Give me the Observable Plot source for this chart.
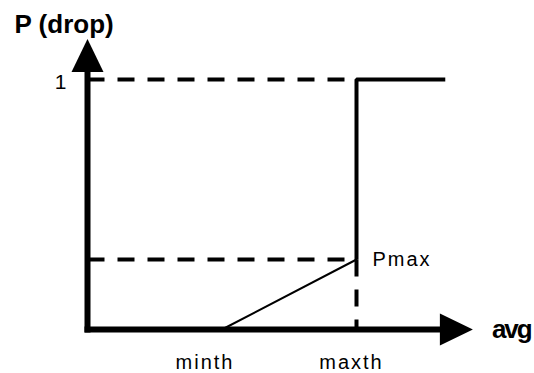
<!DOCTYPE html>
<html>
<head>
<meta charset="utf-8">
<script src="https://cdn.jsdelivr.net/npm/d3@7"></script>
<script src="https://cdn.jsdelivr.net/npm/@observablehq/plot@0.6"></script>
<style>
  html, body { margin: 0; padding: 0; background: #fff; }
</style>
</head>
<body>
<div id="chart"></div>
<script>
// ---- data (abstract units: avg on x, P(drop) on y) ----
const thresholdNames = ["minth", "maxth"];
const thresholdValues = [0.5, 1];
const pmaxValue = 0.28;
const pTopValue = 1;
const pTopLabel = "1";
const pmaxLabel = "Pmax";
const xAxisLabel = "avg";
const yAxisLabel = "P (drop)";
const xAxisEnd = 1.31;   // end of avg axis (arrow base)
const yAxisEnd = 1.03;   // end of P axis (arrow base)
const curveEnd = 1.33;   // where P = 1 segment stops

const minth = thresholdValues[0];
const maxth = thresholdValues[1];

// arrow head symbol (tip pointing "up" before rotation)
const arrowHead = {
  draw(ctx) {
    ctx.moveTo(0, -33);
    ctx.lineTo(16, 0);
    ctx.lineTo(-16, 0);
    ctx.closePath();
  }
};

const axes = [
  {x: 0, y: 0, k: "x"}, {x: xAxisEnd, y: 0, k: "x"},
  {x: 0, y: 0, k: "y"}, {x: 0, y: yAxisEnd, k: "y"}
];
const arrows = [
  {x: xAxisEnd, y: 0, rot: 90},
  {x: 0, y: yAxisEnd, rot: 0}
];
const dashedLines = [
  {x: 0, y: pTopValue, k: "top"}, {x: maxth, y: pTopValue, k: "top"},
  {x: 0, y: pmaxValue, k: "pmax"}, {x: maxth, y: pmaxValue, k: "pmax"},
  {x: maxth, y: pmaxValue, k: "vert"}, {x: maxth, y: 0, k: "vert"}
];
const rampLine = [{x: minth, y: 0}, {x: maxth, y: pmaxValue}];
const stepLine = [{x: maxth, y: pmaxValue}, {x: maxth, y: pTopValue}, {x: curveEnd, y: pTopValue}];

const font = "'Liberation Sans', Arial, sans-serif";

const chart = Plot.plot({
  width: 534,
  height: 373,
  margin: 0,
  x: {domain: [0, 1], range: [87, 356], axis: null},
  y: {domain: [0, 1], range: [329, 79], axis: null},
  style: {background: "#fff", fontFamily: font, color: "#000"},
  marks: [
    Plot.line(dashedLines, {x: "x", y: "y", z: "k", stroke: "#000", strokeWidth: 4, strokeDasharray: "17,13", strokeLinecap: "butt"}),
    Plot.line(rampLine, {x: "x", y: "y", stroke: "#000", strokeWidth: 2}),
    Plot.line(stepLine, {x: "x", y: "y", stroke: "#000", strokeWidth: 4, strokeLinejoin: "miter", strokeLinecap: "butt"}),
    Plot.line(axes, {x: "x", y: "y", z: "k", stroke: "#000", strokeWidth: 6, strokeLinecap: "square"}),
    Plot.dot(arrows, {x: "x", y: "y", symbol: arrowHead, rotate: "rot", fill: "#000", stroke: null, r: 10}),
    Plot.text([thresholdNames[0]], {x: minth, y: 0, text: d => d, dx: -17, dy: 39, lineAnchor: "bottom", fontSize: 20, fill: "#000"}),
    Plot.text([thresholdNames[1]], {x: maxth, y: 0, text: d => d, dx: -5, dy: 39, lineAnchor: "bottom", fontSize: 20, fill: "#000"}),
    Plot.text([pmaxLabel], {x: maxth, y: pmaxValue, text: d => d, textAnchor: "start", dx: 16, dy: 6, lineAnchor: "bottom", fontSize: 20, fill: "#000"}),
    Plot.text([pTopLabel], {x: 0, y: pTopValue, text: d => d, textAnchor: "end", dx: -21, dy: 9, lineAnchor: "bottom", fontSize: 21, fill: "#000"}),
    Plot.text([xAxisLabel], {x: xAxisEnd, y: 0, text: d => d, textAnchor: "start", dx: 52, dy: 8, lineAnchor: "bottom", fontSize: 26, fontWeight: "bold", fill: "#000"}),
    Plot.text([yAxisLabel], {frameAnchor: "top-left", text: d => d, textAnchor: "start", dx: 14, dy: 32, lineAnchor: "bottom", fontSize: 26, fontWeight: "bold", fill: "#000"})
  ]
});

// letter spacing tweaks for the labels
d3.select(chart).selectAll("text").each(function () {
  const t = this.textContent;
  if (t === pmaxLabel) this.setAttribute("letter-spacing", "2");
  if (t === xAxisLabel) this.setAttribute("letter-spacing", "-2");
  if (thresholdNames.includes(t)) this.setAttribute("letter-spacing", "2");
});

document.getElementById("chart").appendChild(chart);
</script>
</body>
</html>
